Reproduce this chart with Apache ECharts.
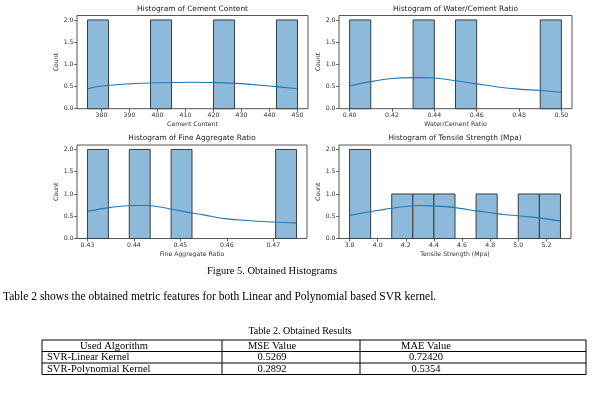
<!DOCTYPE html>
<html>
<head>
<meta charset="utf-8">
<script src="https://cdn.jsdelivr.net/npm/echarts@6/dist/echarts.min.js"></script>
<style>
html,body{margin:0;padding:0;background:#fff;}
#chart{width:613px;height:396px;}
</style>
</head>
<body>
<div id="chart"></div>
<script>
// ---------- data ----------
const chartTitles = ['Histogram of Cement Content','Histogram of Water/Cement Ratio','Histogram of Fine Aggregate Ratio','Histogram of Tensile Strength (Mpa)'];
const xAxisNames = ['Cement Content','Water/Cement Ratio','Fine Aggregate Ratio','Tensile Strength (Mpa)'];

const cementBins   = [375,382.5,390,397.5,405,412.5,420,427.5,435,442.5,450];
const cementCounts = [2,0,0,2,0,0,2,0,0,2];
const cementKdeX   = [375,380,390,400,412.5,420,430,440,450];
const cementKdeY   = [0.45,0.51,0.56,0.585,0.595,0.59,0.565,0.51,0.45];
const cementTicks  = ['380','390','400','410','420','430','440','450'];

const waterBins   = [0.40,0.41,0.42,0.43,0.44,0.45,0.46,0.47,0.48,0.49,0.50];
const waterCounts = [2,0,0,2,0,2,0,0,0,2];
const waterKdeX   = [0.40,0.41,0.42,0.43,0.435,0.44,0.45,0.46,0.47,0.48,0.49,0.50];
const waterKdeY   = [0.51,0.61,0.68,0.70,0.70,0.69,0.63,0.56,0.49,0.44,0.41,0.37];
const waterTicks  = ['0.40','0.42','0.44','0.46','0.48','0.50'];

const fineBins   = [0.43,0.4345,0.439,0.4435,0.448,0.4525,0.457,0.4615,0.466,0.4705,0.475];
const fineCounts = [2,0,2,0,2,0,0,0,0,2];
const fineKdeX   = [0.43,0.435,0.44,0.4425,0.445,0.45,0.455,0.46,0.465,0.47,0.475];
const fineKdeY   = [0.61,0.70,0.74,0.74,0.72,0.62,0.53,0.44,0.40,0.37,0.35];
const fineTicks  = ['0.43','0.44','0.45','0.46','0.47'];

const tensileBins   = [3.8,3.95,4.1,4.25,4.4,4.55,4.7,4.85,5.0,5.15,5.3];
const tensileCounts = [2,0,1,1,1,0,1,0,1,1];
const tensileKdeX   = [3.8,3.9,4.0,4.1,4.2,4.3,4.4,4.5,4.6,4.7,4.8,4.9,5.0,5.1,5.2,5.3];
const tensileKdeY   = [0.52,0.58,0.63,0.68,0.72,0.74,0.73,0.71,0.67,0.62,0.58,0.54,0.51,0.48,0.44,0.39];
const tensileTicks  = ['3.8','4.0','4.2','4.4','4.6','4.8','5.0','5.2'];

const countTicks = ['0.0','0.5','1.0','1.5','2.0'];

const figureCaption = 'Figure 5. Obtained Histograms';
const paragraphText = 'Table 2 shows the obtained metric features for both Linear and Polynomial based SVR kernel.';
const tableCaption  = 'Table 2. Obtained Results';
const tableHeaders  = ['Used Algorithm','MSE Value','MAE Value'];
const algorithms    = ['SVR-Linear Kernel','SVR-Polynomial Kernel'];
const mseValues     = ['0.5269','0.2892'];
const maeValues     = ['0.72420','0.5354'];

// ---------- layout ----------
const panels = [
  {bins:cementBins, counts:cementCounts, kx:cementKdeX, ky:cementKdeY, ticks:cementTicks, range:[371.25,453.75], grid:{left:77,top:15.5,width:231,height:93.2}},
  {bins:waterBins, counts:waterCounts, kx:waterKdeX, ky:waterKdeY, ticks:waterTicks, range:[0.395,0.505], grid:{left:339,top:15.5,width:233,height:93.2}},
  {bins:fineBins, counts:fineCounts, kx:fineKdeX, ky:fineKdeY, ticks:fineTicks, range:[0.42775,0.47725], grid:{left:77,top:145,width:230,height:93.5}},
  {bins:tensileBins, counts:tensileCounts, kx:tensileKdeX, ky:tensileKdeY, ticks:tensileTicks, range:[3.725,5.375], grid:{left:339,top:145,width:232,height:93.5}}
];

const FONT = 'DejaVu Sans';
const SERIF = 'Liberation Serif';
const grids = [], xAxes = [], yAxes = [], series = [], graphics = [];

panels.forEach((p, i) => {
  grids.push(Object.assign({show:true, borderColor:'#555', borderWidth:1, backgroundColor:'transparent', containLabel:false}, p.grid));
  const tickVals = p.ticks.map(Number);
  xAxes.push({
    type:'value', gridIndex:i, min:p.range[0], max:p.range[1],
    axisLine:{show:false}, splitLine:{show:false},
    axisTick:{show:true, customValues:tickVals, length:3, lineStyle:{color:'#444', width:0.8}},
    axisLabel:{customValues:tickVals, fontSize:6.2, fontFamily:FONT, color:'#333', margin:3.5,
      formatter:(v)=>{ const k = tickVals.findIndex(t=>Math.abs(t-v)<1e-9); return k>=0 ? p.ticks[k] : ''; }},
    name:xAxisNames[i], nameLocation:'middle', nameGap:13,
    nameTextStyle:{fontSize:6.2, fontFamily:FONT, color:'#333'}
  });
  const yVals = countTicks.map(Number);
  yAxes.push({
    type:'value', gridIndex:i, min:0, max:2.1,
    axisLine:{show:false}, splitLine:{show:false},
    axisTick:{show:true, customValues:yVals, length:3, lineStyle:{color:'#444', width:0.8}},
    axisLabel:{customValues:yVals, fontSize:6.2, fontFamily:FONT, color:'#333', margin:3.5,
      formatter:(v)=>{ const k = yVals.findIndex(t=>Math.abs(t-v)<1e-9); return k>=0 ? countTicks[k] : ''; }},
    name:'Count', nameLocation:'middle', nameGap:16, nameRotate:90,
    nameTextStyle:{fontSize:6.2, fontFamily:FONT, color:'#333'}
  });
  const histData = p.counts.map((c, k) => [p.bins[k], p.bins[k+1], c]);
  series.push({
    type:'custom', xAxisIndex:i, yAxisIndex:i, data:histData, encode:{x:[0,1], y:2},
    renderItem:(params, api) => {
      const c = api.value(2);
      if (!c) return null;
      const a = api.coord([api.value(0), c]);
      const b = api.coord([api.value(1), 0]);
      return {type:'rect', shape:{x:a[0], y:a[1], width:b[0]-a[0], height:b[1]-a[1]},
        style:{fill:'#8dbadb', stroke:'#3d3d3d', lineWidth:1}};
    },
    z:2
  });
  series.push({
    type:'line', xAxisIndex:i, yAxisIndex:i, smooth:0.4, showSymbol:false, symbol:'none',
    data:p.kx.map((x,k)=>[x, p.ky[k]]),
    lineStyle:{color:'#1f77b4', width:1.1}, z:3
  });
  graphics.push({type:'text', x:p.grid.left + p.grid.width/2, y:p.grid.top - 6.5,
    style:{text:chartTitles[i], fontSize:7.4, fontFamily:FONT, fill:'#222', textAlign:'center', textVerticalAlign:'middle'}});
});

// ---------- caption, paragraph, table ----------
graphics.push({type:'text', x:272, y:271, style:{text:figureCaption, fontSize:10.5, fontFamily:SERIF, fill:'#000', textAlign:'center', textVerticalAlign:'middle'}});
graphics.push({type:'text', x:3, y:297, style:{text:paragraphText, fontSize:11.5, fontFamily:SERIF, fill:'#000', textAlign:'left', textVerticalAlign:'middle'}});
graphics.push({type:'text', x:300, y:331, style:{text:tableCaption, fontSize:10, fontFamily:SERIF, fill:'#000', textAlign:'center', textVerticalAlign:'middle'}});

const tLeft = 42, tRight = 586, colX = [42, 222, 360, 586], rowY = [340, 351.5, 363, 374.5];
const textCenters = [114, 272, 426];
rowY.forEach(y => graphics.push({type:'line', shape:{x1:tLeft, y1:y, x2:tRight, y2:y}, style:{stroke:'#000', lineWidth:1}}));
colX.forEach(x => graphics.push({type:'line', shape:{x1:x, y1:rowY[0], x2:x, y2:rowY[3]}, style:{stroke:'#000', lineWidth:1}}));
const rows = [tableHeaders].concat(algorithms.map((a,k)=>[a, mseValues[k], maeValues[k]]));
rows.forEach((r, ri) => {
  const yc = (rowY[ri] + rowY[ri+1]) / 2;
  r.forEach((txt, ci) => {
    const left = ri > 0 && ci === 0;
    graphics.push({type:'text', x: left ? colX[0] + 5 : textCenters[ci], y:yc,
      style:{text:txt, fontSize:10.5, fontFamily:SERIF, fill:'#000', textAlign: left ? 'left' : 'center', textVerticalAlign:'middle'}});
  });
});

const chart = echarts.init(document.getElementById('chart'), null, {renderer:'canvas'});
chart.setOption({
  animation:false,
  backgroundColor:'#fff',
  grid:grids, xAxis:xAxes, yAxis:yAxes, series:series,
  graphic:graphics
});
</script>
</body>
</html>
